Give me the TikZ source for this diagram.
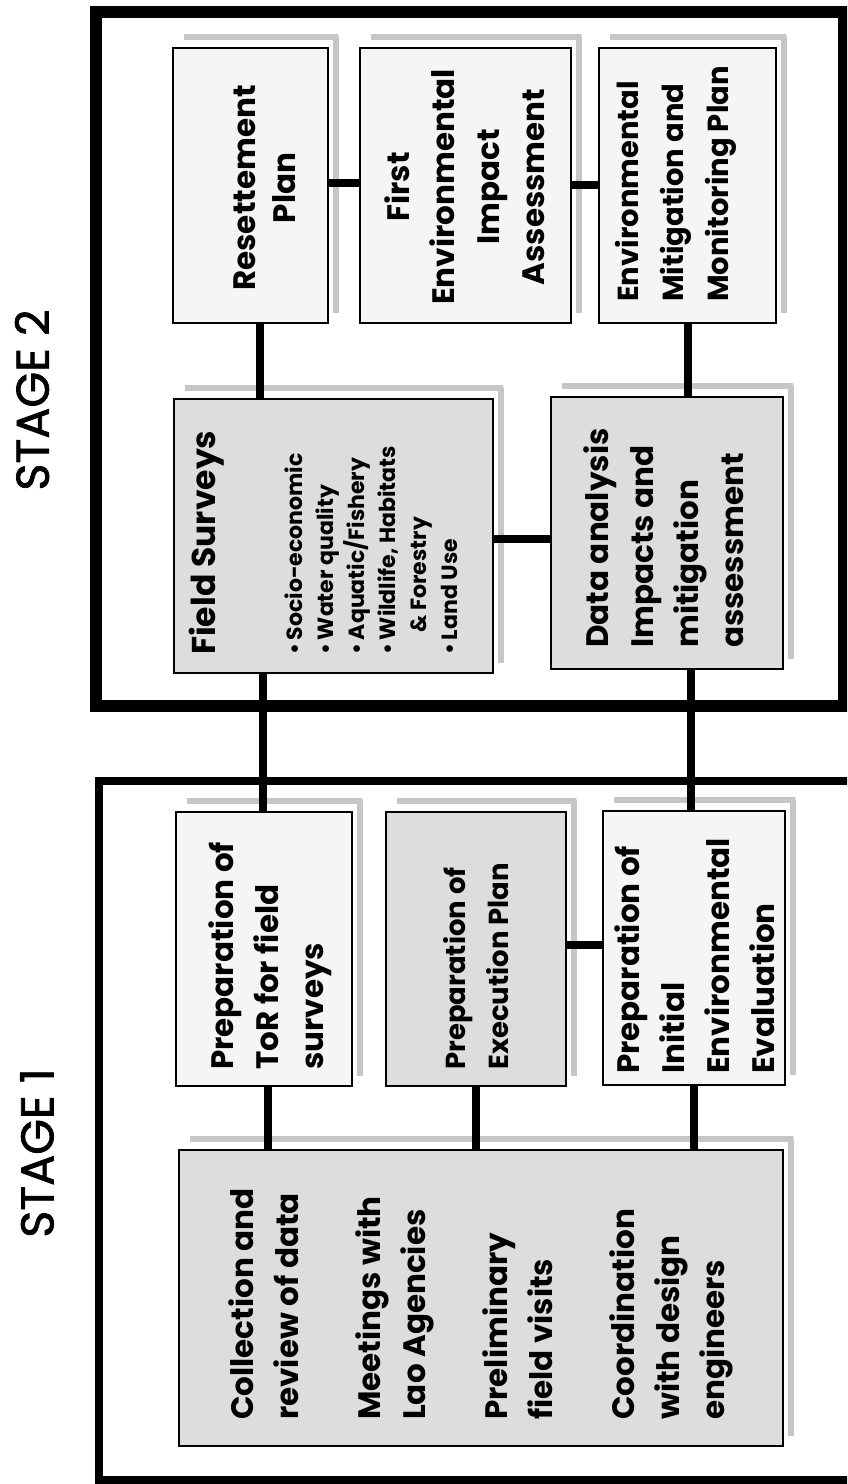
\documentclass[tikz,border=0pt]{standalone}
\usepackage{fontspec}
\setmainfont{Poppins}
\newfontfamily\stagefont{Poppins}[FakeBold=1.6]
\usetikzlibrary{calc}
\begin{document}
\begin{tikzpicture}[x=1pt,y=-1pt,
  boxbase/.style={draw=black, line width=2.5pt, rectangle, inner sep=0pt},
  light/.style={boxbase, fill=gray!8},
  dense/.style={boxbase, fill=gray!27},
  shadowline/.style={draw=gray!45, line width=6pt},
  txt/.style={rotate=90, inner sep=0pt, align=left, font=\bfseries\fontsize{31}{45}\selectfont},
  link/.style={line width=7.5pt},
  frameA/.style={draw=black, line width=12pt, rectangle, inner sep=0pt},
  frameB/.style={draw=black, line width=8pt, rectangle, inner sep=0pt},
  stagelbl/.style={rotate=90, inner sep=0pt, font=\stagefont\fontsize{46}{50}\selectfont}
]
\useasboundingbox (0,0) rectangle (847,1484);
\clip (0,0) rectangle (847,1484);
\fill[white] (0,0) rectangle (847,1484);

% stage frames
\node[frameA, minimum width=748pt, minimum height=694pt] (S2) at (470,359) {};
\node[frameB, minimum width=781pt, minimum height=699pt] (S1) at (489.5,1130.5) {};

% stage labels
\node[stagelbl] (L2) at (32,400) {STAGE 2};
\node[stagelbl] (L1) at (37,1153) {STAGE 1};

% boxes
\node[light, minimum width=155pt, minimum height=275pt] (R) at (250.5,185.5) {};
\node[light, minimum width=211pt, minimum height=275pt] (E) at (465.5,185.5) {};
\node[light, minimum width=177pt, minimum height=275pt] (M) at (687.5,185.5) {};
\node[dense, minimum width=319pt, minimum height=274pt] (F) at (333.5,536) {};
\node[dense, minimum width=232pt, minimum height=272pt] (D) at (667,533) {};
\node[light, minimum width=176pt, minimum height=274pt] (T) at (264,949) {};
\node[dense, minimum width=180pt, minimum height=274pt] (X) at (476,949) {};
\node[light, minimum width=182pt, minimum height=274pt] (I) at (694,948) {};
\node[dense, minimum width=604pt, minimum height=296pt] (C) at (481,1298) {};

% shadows
\foreach \b in {R,E,M,F,D,T,X,I,C}{
  \draw[shadowline] ([xshift=12pt,yshift=9.5pt]\b.north west) -- ([xshift=9pt,yshift=9.5pt]\b.north east)
    -- ([xshift=7pt,yshift=9.5pt]\b.north east) -- ([xshift=7pt,yshift=11pt]\b.south east);
}

% connector guides
\coordinate (c1) at (260,0);
\coordinate (c2) at (688,0);
\coordinate (c3) at (263,0);
\coordinate (c4) at (691,0);
\coordinate (c5) at (268,0);
\coordinate (c6) at (476,0);
\coordinate (c7) at (694,0);
\coordinate (h1) at (0,183);
\coordinate (h2) at (0,185);
\coordinate (h3) at (0,539);
\coordinate (h4) at (0,945);

% connectors
\draw[link] (R.south -| c1) -- (F.north -| c1);
\draw[link] (M.south -| c2) -- (D.north -| c2);
\draw[link] (F.south -| c3) -- (T.north -| c3);
\draw[link] (D.south -| c4) -- (I.north -| c4);
\draw[link] (T.south -| c5) -- (C.north -| c5);
\draw[link] (X.south -| c6) -- (C.north -| c6);
\draw[link] (I.south -| c7) -- (C.north -| c7);
\draw[link] (R.east |- h1) -- (E.west |- h1);
\draw[link] (E.east |- h2) -- (M.west |- h2);
\draw[link] (F.east |- h3) -- (D.west |- h3);
\draw[link] (X.east |- h4) -- (I.west |- h4);

% texts
\node[txt, align=center, font=\bfseries\fontsize{31}{40}\selectfont] (Rt) at (265,188) {Resettement\\Plan};
\node[txt, align=center] (Et) at (465,187) {First\\Environmental\\Impact\\Assessment};
\node[txt, anchor=west, font=\bfseries\fontsize{29}{45}\selectfont] (Mt) at (676,302) {Environmental\\Mitigation and\\Monitoring Plan};
\node[txt, anchor=west, font=\bfseries\fontsize{22}{31}\selectfont] (Ft) at (323,655)
  {{\fontsize{33}{36}\selectfont Field Surveys}\\[56pt]
   •\,Socio-economic\\
   •\,Water quality\\
   •\,Aquatic/Fishery\\
   •\,Wildlife, Habitats\\
   \hspace*{22pt}\& Forestry\\
   •\,Land Use};
\node[txt, anchor=west] (Dt) at (664,648) {Data analysis\\Impacts and\\mitigation\\assessment};
\node[txt, anchor=west] (Tt) at (270,1070) {Preparation of\\ToR for field\\surveys};
\node[txt, anchor=west, font=\bfseries\fontsize{27.5}{43}\selectfont] (Xt) at (476,1070) {Preparation of\\Execution Plan};
\node[txt, anchor=west] (It) at (695,1074) {Preparation of\\Initial\\Environmental\\Evaluation};
\node[txt, anchor=west] (Ct) at (481,1420)
  {Collection and\\review of data\\[37pt]
   Meetings with\\Lao Agencies\\[37pt]
   Preliminary\\field visits\\[37pt]
   Coordination\\with design\\engineers};
\end{tikzpicture}
\end{document}
